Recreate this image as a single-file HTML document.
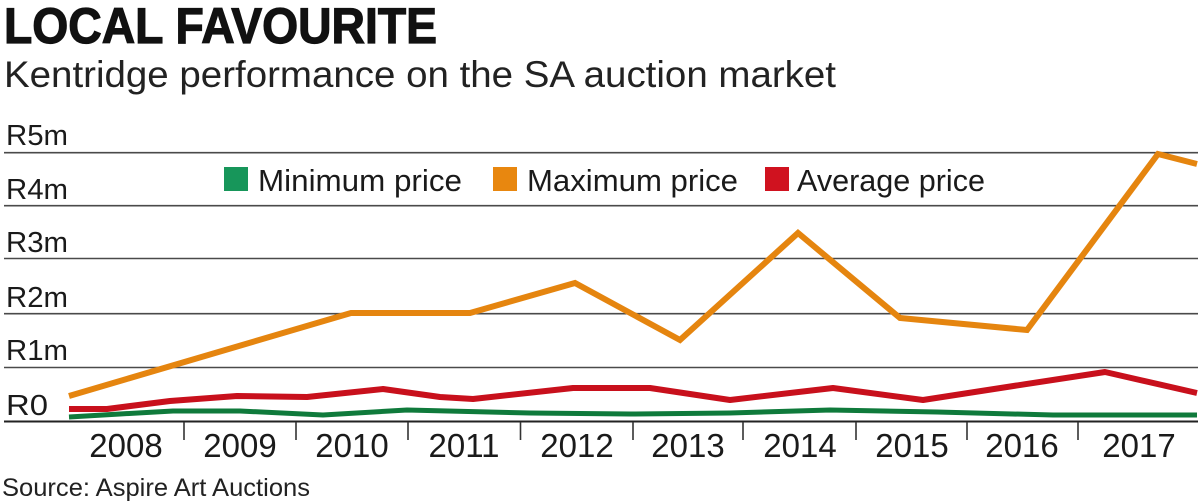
<!DOCTYPE html>
<html>
<head>
<meta charset="utf-8">
<style>
  html, body { margin: 0; padding: 0; background: #ffffff; }
  body { width: 1200px; height: 504px; overflow: hidden; }
  svg { display: block; }
  text { font-family: "Liberation Sans", "DejaVu Sans", sans-serif; fill: #1a1a1a; }
</style>
</head>
<body>
<svg width="1200" height="504" viewBox="0 0 1200 504" xmlns="http://www.w3.org/2000/svg">
  <rect x="0" y="0" width="1200" height="504" fill="#ffffff"/>

  <!-- Title -->
  <text x="4" y="43" font-size="50" font-weight="bold" textLength="433" lengthAdjust="spacingAndGlyphs" style="fill:#111;stroke:#111;stroke-width:1.2">LOCAL FAVOURITE</text>
  <!-- Subtitle -->
  <text x="4" y="87" font-size="37" textLength="832" lengthAdjust="spacingAndGlyphs" style="fill:#222">Kentridge performance on the SA auction market</text>

  <!-- Grid lines -->
  <g stroke="#4a4a4a" stroke-width="1.6">
    <line x1="4" y1="152.7" x2="1198" y2="152.7"/>
    <line x1="4" y1="205.7" x2="1198" y2="205.7"/>
    <line x1="4" y1="258.5" x2="1198" y2="258.5"/>
    <line x1="4" y1="313.7" x2="1198" y2="313.7"/>
    <line x1="4" y1="367.5" x2="1198" y2="367.5"/>
  </g>
  <line x1="4" y1="421.5" x2="1198" y2="421.5" stroke="#222" stroke-width="2"/>

  <!-- Y labels -->
  <g font-size="29">
    <text x="6" y="145" textLength="62" lengthAdjust="spacingAndGlyphs">R5m</text>
    <text x="6" y="199" textLength="62" lengthAdjust="spacingAndGlyphs">R4m</text>
    <text x="6" y="252" textLength="62" lengthAdjust="spacingAndGlyphs">R3m</text>
    <text x="6" y="307" textLength="62" lengthAdjust="spacingAndGlyphs">R2m</text>
    <text x="6" y="360" textLength="62" lengthAdjust="spacingAndGlyphs">R1m</text>
    <text x="6" y="415" textLength="42" lengthAdjust="spacingAndGlyphs">R0</text>
  </g>

  <!-- Ticks -->
  <g stroke="#333" stroke-width="1.6">
    <line x1="184" y1="422" x2="184" y2="440"/>
    <line x1="296" y1="422" x2="296" y2="440"/>
    <line x1="408" y1="422" x2="408" y2="440"/>
    <line x1="520.5" y1="422" x2="520.5" y2="440"/>
    <line x1="633" y1="422" x2="633" y2="440"/>
    <line x1="743" y1="422" x2="743" y2="440"/>
    <line x1="856" y1="422" x2="856" y2="440"/>
    <line x1="967" y1="422" x2="967" y2="440"/>
    <line x1="1078" y1="422" x2="1078" y2="440"/>
  </g>

  <!-- Year labels -->
  <g font-size="33" text-anchor="middle">
    <text x="126" y="457">2008</text>
    <text x="240" y="457">2009</text>
    <text x="352" y="457">2010</text>
    <text x="464" y="457">2011</text>
    <text x="577" y="457">2012</text>
    <text x="688" y="457">2013</text>
    <text x="800" y="457">2014</text>
    <text x="912" y="457">2015</text>
    <text x="1022" y="457">2016</text>
    <text x="1139" y="457">2017</text>
  </g>

  <!-- Legend -->
  <rect x="224" y="167" width="24" height="24" fill="#17965a"/>
  <text x="258" y="191" font-size="31" textLength="204" lengthAdjust="spacingAndGlyphs">Minimum price</text>
  <rect x="493" y="167" width="24" height="24" fill="#e8870f"/>
  <text x="527" y="191" font-size="31" textLength="211" lengthAdjust="spacingAndGlyphs">Maximum price</text>
  <rect x="765" y="167" width="24" height="24" fill="#d0121f"/>
  <text x="797" y="191" font-size="31" textLength="188" lengthAdjust="spacingAndGlyphs">Average price</text>

  <!-- Series -->
  <polyline fill="none" stroke="#0f7a3b" stroke-width="5" stroke-linejoin="round" stroke-linecap="butt"
    points="69,417 120,414 173,411 240,411 323,415 407,410 530,413 630,414 730,413 830,410 937,412 1053,415 1197,415"/>
  <polyline fill="none" stroke="#c8101c" stroke-width="6" stroke-linejoin="round" stroke-linecap="butt"
    points="69,409 107,409 170,401 237,396 307,397 383,389 440,397 473,399 573,388 650,388 730,400 833,388 923,400 1007,387 1105,372 1197,393"/>
  <polyline fill="none" stroke="#e5850f" stroke-width="6" stroke-linejoin="miter" stroke-linecap="butt"
    points="69,396 351,313 470,313 575,283 680,340 798,233 900,318 1027,330 1158,154 1197,164"/>

  <!-- Source -->
  <text x="2" y="496" font-size="25" textLength="308" lengthAdjust="spacingAndGlyphs" style="fill:#222">Source: Aspire Art Auctions</text>
</svg>
</body>
</html>
